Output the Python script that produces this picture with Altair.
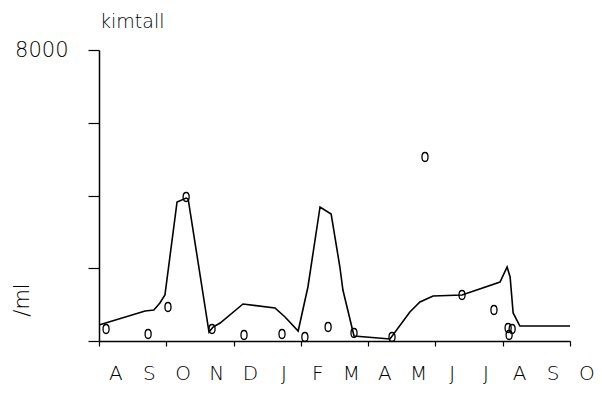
import altair as alt
import pandas as pd

# line (month index from 1 Aug, value per ml)
line_x = [0.0, 1.37, 1.63, 1.81, 1.96, 2.32, 2.59, 2.65, 3.27, 3.39, 3.60, 4.28, 5.23, 5.53,
          5.92, 6.21, 6.57, 6.90, 7.16, 7.25, 7.58, 8.65, 9.24, 9.54, 9.93, 10.79, 11.92,
          12.13, 12.22, 12.31, 12.51, 14.0]
line_y = [440, 825, 852, 1045, 1265, 3821, 3931, 3904, 247, 385, 495, 1017, 907, 660,
          275, 1485, 3684, 3491, 2034, 1402, 137, 55, 797, 1072, 1237, 1265, 1622,
          2034, 1759, 770, 412, 412]

# observed points
pt_x = [0.21, 1.46, 2.05, 2.59, 3.36, 4.31, 5.44, 6.12, 6.81, 7.58, 8.71, 9.69, 10.79,
        11.74, 12.16, 12.28, 12.19]
pt_y = [330, 192, 935, 3959, 330, 165, 192, 110, 385, 220, 110, 5058, 1265,
        852, 357, 330, 165]

months = ["A", "S", "O", "N", "D", "J", "F", "M", "A", "M", "J", "J", "A", "S", "O"]
month_pos = [i + 0.5 for i in range(len(months))]
y_ticks = [0, 2000, 4000, 6000, 8000]

FONT = "DejaVu Sans"
W, H = 471, 291

line_df = pd.DataFrame({"m": line_x, "v": line_y, "o": list(range(len(line_x)))})
pt_df = pd.DataFrame({"m": pt_x, "v": pt_y})
lab_df = pd.DataFrame({"m": month_pos, "lab": months})

xs = alt.Scale(domain=[0, 14], nice=False, zero=False)
ys = alt.Scale(domain=[0, 8000], nice=False)

x_axis = alt.Axis(values=list(range(15)), labels=False, title=None, tickSize=5,
                  tickColor="black", domainColor="black", domainWidth=1.5, tickWidth=1.2,
                  grid=False)
y_axis = alt.Axis(values=y_ticks, labelExpr="datum.value == 8000 ? '8000' : ''",
                  title=None, tickSize=11, tickColor="black", domainColor="black",
                  domainWidth=1.5, tickWidth=1.2, grid=False, labelFont=FONT,
                  labelFontSize=21, labelColor="black", labelPadding=20,
                  labelBaseline="middle", labelFontWeight=300)

line = alt.Chart(line_df).mark_line(color="black", strokeWidth=1.6).encode(
    x=alt.X("m:Q", scale=xs, axis=x_axis),
    y=alt.Y("v:Q", scale=ys, axis=y_axis),
    order="o:Q",
)

pts = alt.Chart(pt_df).mark_point(
    shape="M 0 -1 C 0.9 -1 0.9 1 0 1 C -0.9 1 -0.9 -1 0 -1 Z",
    filled=False, color="black", strokeWidth=1.3, size=81, opacity=1,
).encode(x=alt.X("m:Q", scale=xs), y=alt.Y("v:Q", scale=ys))

labels = alt.Chart(lab_df).mark_text(
    font=FONT, fontSize=20, color="black", baseline="alphabetic", align="center",
    fontWeight=300,
).encode(x=alt.X("m:Q", scale=xs), y=alt.value(330), text="lab:N")

title = alt.Chart(pd.DataFrame({"t": ["kimtall"]})).mark_text(
    font=FONT, fontSize=19, color="black", align="left", baseline="alphabetic",
    fontWeight=300,
).encode(x=alt.value(1), y=alt.value(-22), text="t:N")

ylab = alt.Chart(pd.DataFrame({"t": ["/ml"]})).mark_text(
    font=FONT, fontSize=21, color="black", align="center", baseline="middle",
    angle=270, fontWeight=300,
).encode(x=alt.value(-76), y=alt.value(250), text="t:N")

chart = alt.layer(line, pts, labels, title, ylab).properties(
    width=W, height=H,
    background="white",
    autosize=alt.AutoSizeParams(type="none"),
    padding={"left": 91, "top": 42, "right": 24, "bottom": 46},
).configure_view(strokeWidth=0, stroke="transparent")

chart.save("out.html", embed_options={"renderer": "svg", "actions": False})
